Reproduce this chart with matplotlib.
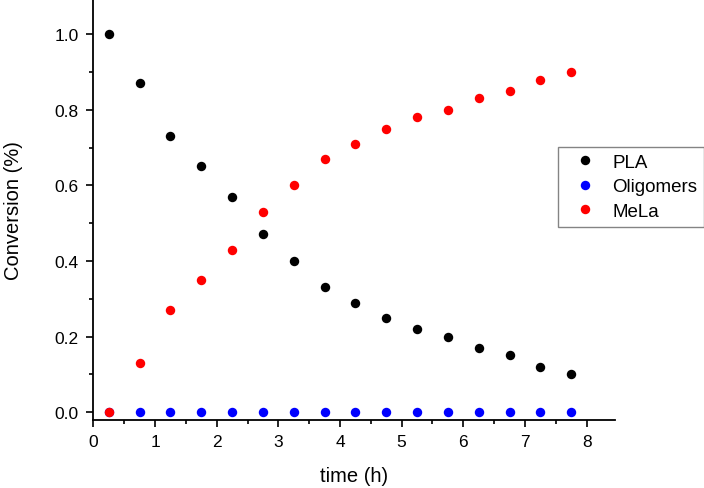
import matplotlib
matplotlib.use("Agg")
import matplotlib.pyplot as plt
from matplotlib.ticker import MultipleLocator

plt.rcParams['font.family'] = ['Liberation Sans', 'DejaVu Sans']

time_h = [0.25, 0.75, 1.25, 1.75, 2.25, 2.75, 3.25, 3.75, 4.25, 4.75, 5.25, 5.75, 6.25, 6.75, 7.25, 7.75]
pla = [1.0, 0.87, 0.73, 0.65, 0.57, 0.47, 0.40, 0.33, 0.29, 0.25, 0.22, 0.20, 0.17, 0.15, 0.12, 0.10]
oligomers = [0, 0, 0, 0, 0, 0, 0, 0, 0, 0, 0, 0, 0, 0, 0, 0]
mela = [0, 0.13, 0.27, 0.35, 0.43, 0.53, 0.60, 0.67, 0.71, 0.75, 0.78, 0.80, 0.83, 0.85, 0.88, 0.90]

fig = plt.figure(figsize=(7.04, 4.89), dpi=100)
ax = fig.add_axes([0.1326, 0.1397, 0.741, 0.8603])

ax.plot(time_h, pla, 'o', color='black', ms=6.8, mew=0, label='PLA')
ax.plot(time_h, oligomers, 'o', color='#0000ff', ms=6.8, mew=0, label='Oligomers')
ax.plot(time_h, mela, 'o', color='#ff0000', ms=6.8, mew=0, label='MeLa')

ax.set_xlim(0, 8.46)
ax.set_ylim(-0.02, 1.093)
ax.xaxis.set_major_locator(MultipleLocator(1))
ax.xaxis.set_minor_locator(MultipleLocator(0.5))
ax.yaxis.set_major_locator(MultipleLocator(0.2))
ax.yaxis.set_minor_locator(MultipleLocator(0.1))
ax.yaxis.set_major_formatter(plt.FormatStrFormatter('%.1f'))

for s in ['top', 'right']:
    ax.spines[s].set_visible(False)
for s in ['left', 'bottom']:
    ax.spines[s].set_linewidth(1.3)

ax.tick_params(which='major', direction='out', length=5, width=1.2, labelsize=12.5, pad=5.5)
ax.tick_params(which='minor', direction='out', length=3, width=1.2)

ax.set_xlabel('time (h)', fontsize=14.5, labelpad=12)
ax.set_ylabel('Conversion (%)', fontsize=14.5, labelpad=23)

leg = fig.legend(loc='upper left', bbox_to_anchor=(558/704, 1 - 148/489),
                 fontsize=13.5, frameon=True, fancybox=False, handletextpad=0.35,
                 borderpad=0.35, labelspacing=0.4, handlelength=2.2, borderaxespad=0)
leg.get_frame().set_edgecolor('#666666')
leg.get_frame().set_linewidth(1.0)

fig.savefig('out.png', dpi=100)
